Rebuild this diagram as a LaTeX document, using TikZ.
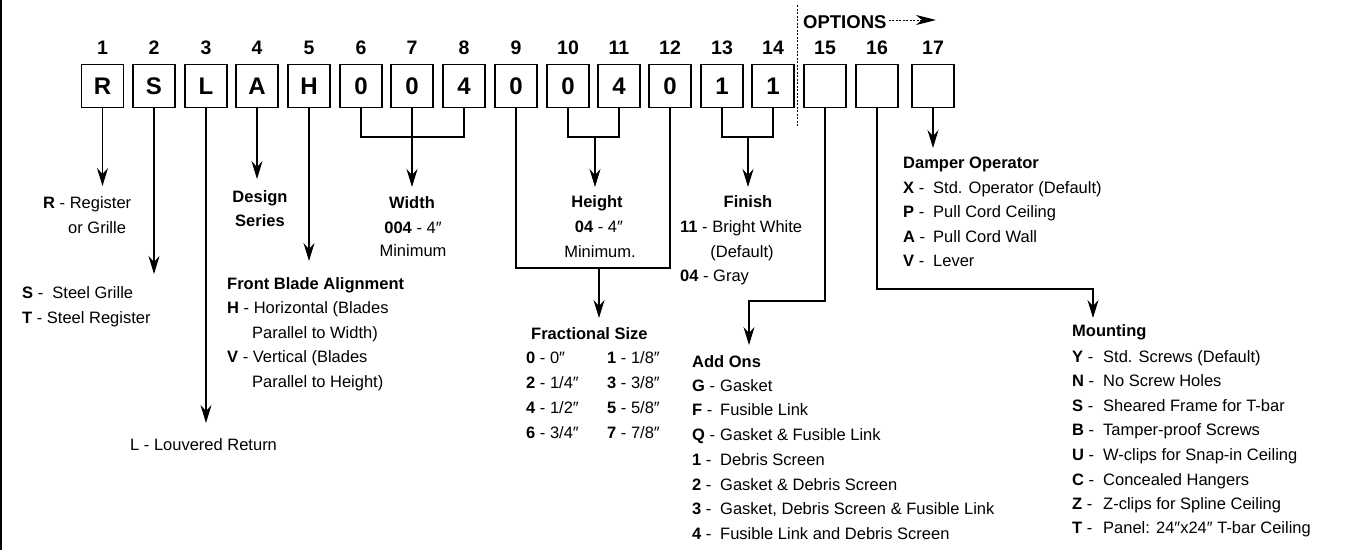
\documentclass[tikz,border=0pt]{standalone}
\usepackage{fontspec}
\setmainfont{Liberation Sans}
\usetikzlibrary{arrows.meta}
\newcommand\myfs[1]{\fontsize{#1}{#1}\selectfont}
\newcommand\kk[3]{\makebox[#1pt][l]{\textbf{#2} -}#3}
\newcommand\qq{″}
\begin{document}
\begin{tikzpicture}[x=1pt,y=-1pt,
  box/.style={draw, line width=1.2pt, minimum width=42pt, minimum height=43pt, inner sep=0pt, font=\bfseries\myfs{24}},
  num/.style={font=\bfseries\myfs{19.5}, anchor=base, inner sep=0pt},
  txt/.style={font=\myfs{16.5}, anchor=base west, inner sep=0pt},
  ctxt/.style={font=\myfs{16.5}, anchor=base, inner sep=0pt},
  ln/.style={line width=1.2pt},
  arr/.style={ln, -{Stealth[length=18pt,width=11pt,inset=6pt]}},
  dsh/.style={line width=1pt, dash pattern=on 2pt off 1.5pt}]
\useasboundingbox (0,0) rectangle (1348,550);
\coordinate (L1) at (1.2,0); \coordinate (L2) at (1.2,550);
\draw[line width=1.6pt] (L1) -- (L2);
% boxes
\foreach \i/\x/\t in {1/102.5/R,2/154/S,3/206/L,4/257/A,5/309/H,6/361/0,7/412/0,8/464/4,9/516/0,10/568/0,11/619/4,12/670/0,13/722/1,14/773/1,15/825/{},16/877/{},17/933/{}}{
  \node[box] (b\i) at (\x,86) {\t};
  \node[num] (n\i) at (\x,54) {\i};
}
% options
\coordinate (d1) at (797,5); \coordinate (d2) at (797,126);
\draw[dsh] (d1) -- (d2);
\node[font=\bfseries\myfs{18.5}, anchor=base west, inner sep=0pt] (opt) at (803,28) {OPTIONS};
\coordinate (optend) at (936,20);
\draw[dsh, -{Stealth[length=20pt,width=10pt,inset=6pt]}] (opt.east |- optend) ++(2,0) -- (optend);
% simple arrows
\coordinate (t1) at (102.5,186); \draw[arr] (b1.south) -- (t1);
\coordinate (t2) at (154,274); \draw[arr] (b2.south) -- (t2);
\coordinate (t3) at (206,423); \draw[arr] (b3.south) -- (t3);
\coordinate (t4) at (257,179); \draw[arr] (b4.south) -- (t4);
\coordinate (t5) at (309,261); \draw[arr] (b5.south) -- (t5);
\coordinate (t17) at (933,148); \draw[arr] (b17.south) -- (t17);
% width
\coordinate (wbar) at (412,137); \coordinate (t7) at (412,187);
\draw[ln] (b6.south) |- (wbar) -| (b8.south);
\draw[arr] (b7.south) -- (t7);
% height
\coordinate (hbar) at (595,137); \coordinate (th) at (595,187);
\draw[ln] (b10.south) |- (hbar) -| (b11.south);
\draw[arr] (hbar) -- (th);
% finish
\coordinate (fbar) at (748,137); \coordinate (tf) at (748,187);
\draw[ln] (b13.south) |- (fbar) -| (b14.south);
\draw[arr] (fbar) -- (tf);
% fractional
\coordinate (frbar) at (599,268); \coordinate (tfr) at (599,318);
\draw[ln] (b9.south) |- (frbar) -| (b12.south);
\draw[arr] (frbar) -- (tfr);
% add ons
\coordinate (a1) at (749,301); \coordinate (a2) at (749,345);
\draw[arr] (b15.south) |- (a1) -- (a2);
% mounting
\coordinate (m1) at (1093,289); \coordinate (m2) at (1093,318);
\draw[arr] (b16.south) |- (m1) -- (m2);
% texts
\node[txt] (r1) at (43,208) {\textbf{R} - Register};
\node[txt] (r2) at (68,233) {or Grille};
\node[txt] (s1) at (22,298) {\textbf{S} -\ \ Steel Grille};
\node[txt] (s2) at (22,323) {\textbf{T} - Steel Register};
\node[txt] (l1) at (130,450) {L - Louvered Return};
\node[ctxt, font=\bfseries\myfs{16.5}] (ds1) at (260,202) {Design};
\node[ctxt, font=\bfseries\myfs{16.5}] (ds2) at (260,226) {Series};
\node[txt, font=\bfseries\myfs{16.5}] (fb0) at (227,289) {Front Blade Alignment};
\node[txt] (fb1) at (227,313) {\textbf{H} - Horizontal (Blades};
\node[txt] (fb2) at (252,338) {Parallel to Width)};
\node[txt] (fb3) at (227,362) {\textbf{V} - Vertical (Blades};
\node[txt] (fb4) at (252,387) {Parallel to Height)};
\node[ctxt, font=\bfseries\myfs{16.5}] (w0) at (412,208) {Width};
\node[ctxt] (w1) at (413,233) {\textbf{004} - 4\qq};
\node[ctxt] (w2) at (413,256) {Minimum};
\node[ctxt, font=\bfseries\myfs{16.5}] (h0) at (597,207) {Height};
\node[ctxt] (h1) at (599,232) {\textbf{04} - 4\qq};
\node[ctxt] (h2) at (600,257) {Minimum.};
\node[ctxt, font=\bfseries\myfs{16.5}] (f0) at (748,207) {Finish};
\node[txt] (f1) at (680,232) {\textbf{11} - Bright White};
\node[ctxt] (f2) at (742,257) {(Default)};
\node[txt] (f3) at (680,281) {\textbf{04} - Gray};
\node[txt, font=\bfseries\myfs{16.5}] (fr0) at (531,339) {Fractional Size};
\foreach \k/\a/\b/\c/\d/\y in {1/0/0\qq/1/1\slash 8\qq/363, 2/2/1\slash 4\qq/3/3\slash 8\qq/388, 3/4/1\slash 2\qq/5/5\slash 8\qq/413, 4/6/3\slash 4\qq/7/7\slash 8\qq/438}{
  \node[txt] (frl\k) at (526,\y) {\textbf{\a} - \b};
  \node[txt] (frr\k) at (607,\y) {\textbf{\c} - \d};
}
\node[txt, font=\bfseries\myfs{16.5}] (ao0) at (692,367) {Add Ons};
\foreach \k/\a/\b/\y in {1/G/Gasket/391, 2/F/Fusible Link/415, 3/Q/Gasket \& Fusible Link/440, 4/1/Debris Screen/465, 5/2/Gasket \& Debris Screen/490, 6/3/{Gasket, Debris Screen \& Fusible Link}/514, 7/4/Fusible Link and Debris Screen/539}{
  \node[txt] (ao\k) at (692,\y) {\kk{28}{\a}{\b}};
}
\node[txt, font=\bfseries\myfs{16.5}] (dp0) at (903,168) {Damper Operator};
\foreach \k/\a/\b/\y in {1/X/Std. Operator (Default)/193, 2/P/Pull Cord Ceiling/217, 3/A/Pull Cord Wall/242, 4/V/Lever/266}{
  \node[txt] (dp\k) at (903,\y) {\kk{30}{\a}{\b}};
}
\node[txt, font=\bfseries\myfs{16.5}] (mt0) at (1072,336) {Mounting};
\foreach \k/\a/\b/\y in {1/Y/{Std. Screws (Default)}/362, 2/N/No Screw Holes/386, 3/S/Sheared Frame for T-bar/411, 4/B/Tamper-proof Screws/435, 5/U/W-clips for Snap-in Ceiling/460, 6/C/Concealed Hangers/485, 7/Z/Z-clips for Spline Ceiling/509, 8/T/{Panel: 24\qq x24\qq{} T-bar Ceiling}/533}{
  \node[txt] (mt\k) at (1072,\y) {\kk{31}{\a}{\b}};
}
\end{tikzpicture}
\end{document}
